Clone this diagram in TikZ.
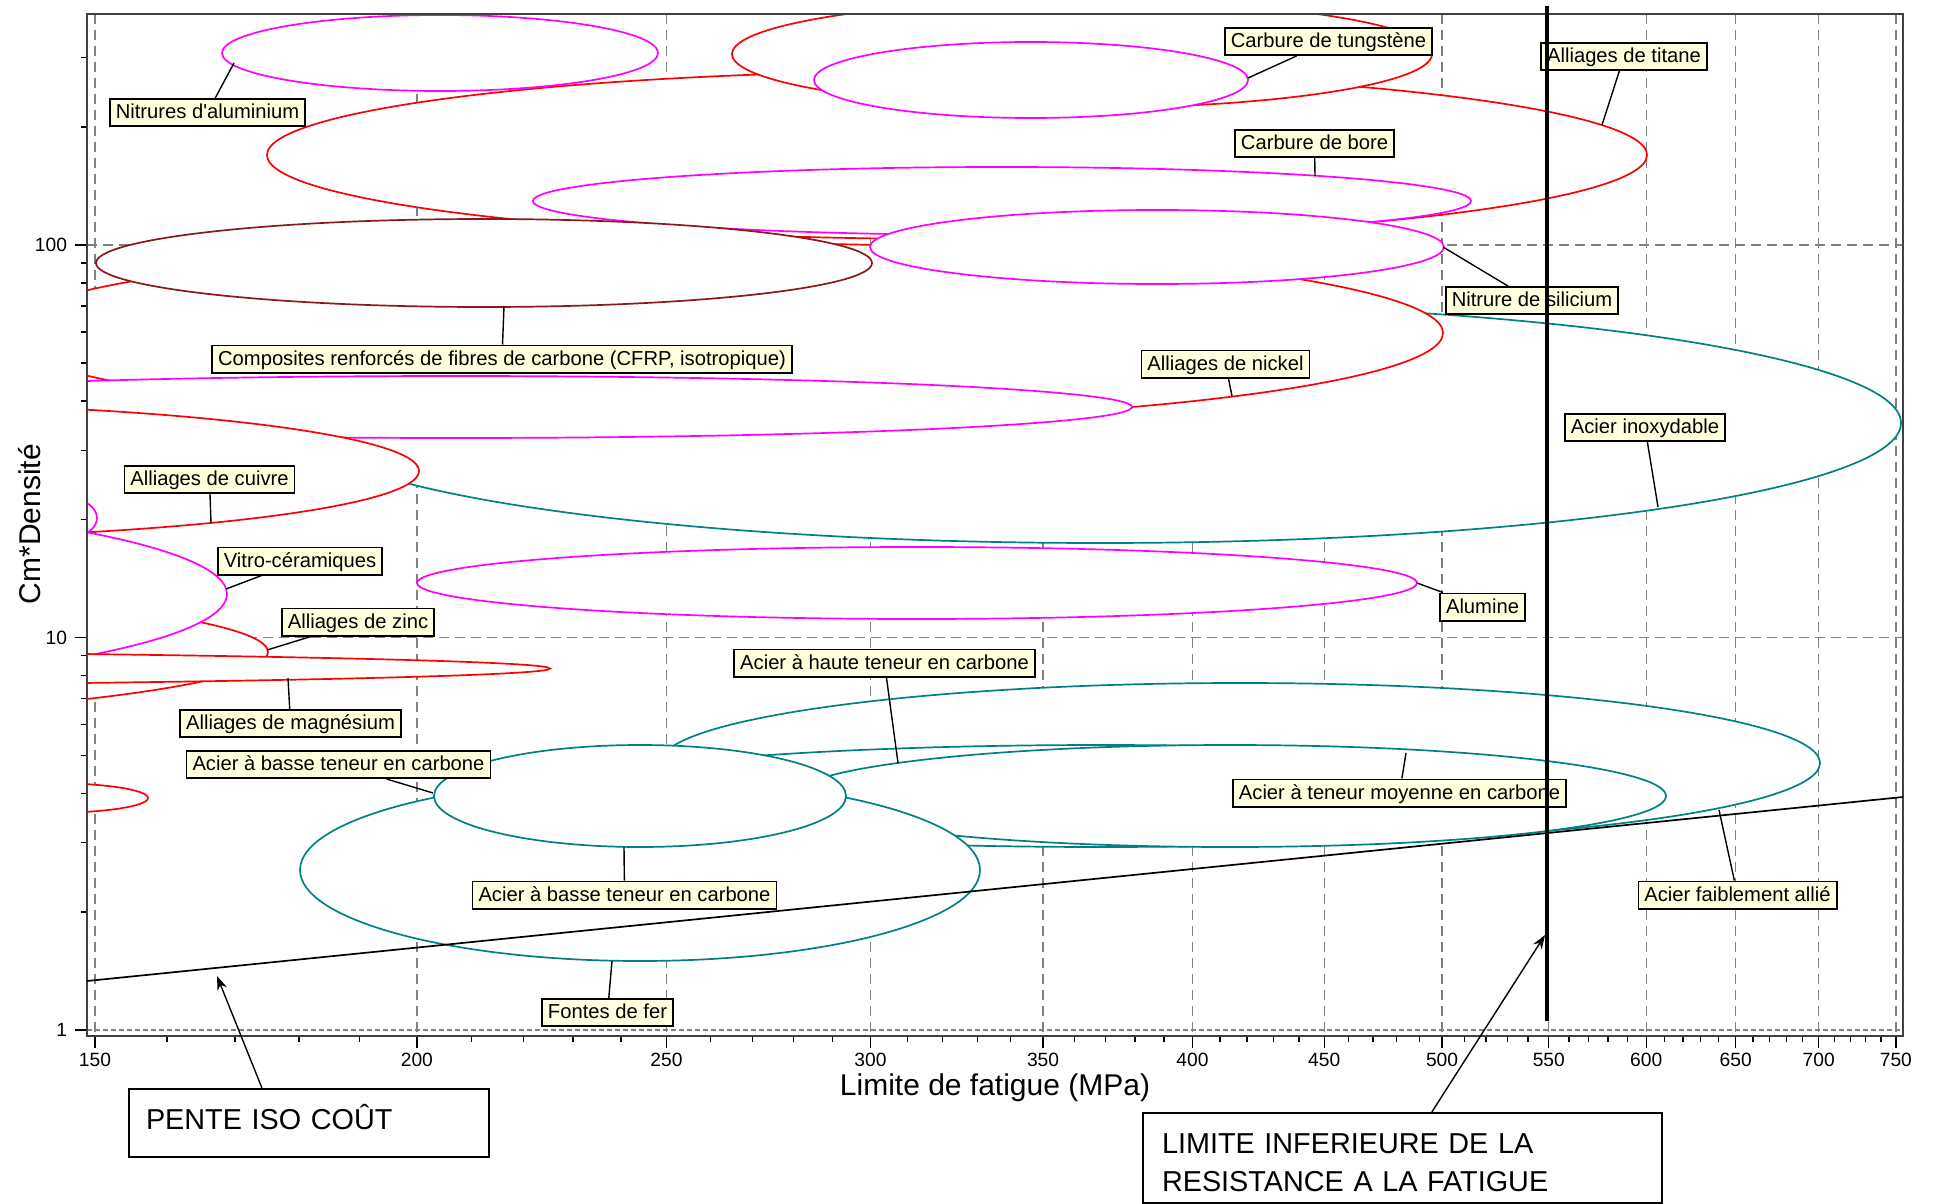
\documentclass[tikz,border=0pt]{standalone}
\usepackage{fontspec}
\setmainfont{Liberation Sans}
\setmonofont{Liberation Sans}
\usetikzlibrary{arrows.meta,calc}
\definecolor{metal}{RGB}{255,0,0}
\definecolor{ceram}{RGB}{255,0,255}
\definecolor{acier}{RGB}{0,128,128}
\definecolor{compo}{RGB}{140,25,25}
\definecolor{etiq}{RGB}{255,255,221}
\tikzset{
  bulle/.style={fill=white, line width=0.85pt},
  etiquette/.style={draw, fill=etiq, line width=0.8pt, font=\fontsize{10.1}{11}\selectfont,
    inner xsep=3pt, inner ysep=0pt, text height=10pt, text depth=3.7pt},
  trait/.style={line width=0.7pt},
  grille/.style={gray, line width=0.7pt, dash pattern=on 5pt off 3pt},
  cadre/.style={draw=black!75, line width=1.1pt},
  graduation/.style={font=\fontsize{9.6}{11}\selectfont},
  encadre/.style={draw, fill=white, line width=1pt, font=\fontsize{14.4}{19}\selectfont,
    align=left, inner ysep=0pt, anchor=north west},
  fleche/.style={line width=0.7pt, -{Stealth[length=7pt, width=5pt]}}
}
\begin{document}
\begin{tikzpicture}[x=0.5pt, y=-0.5pt,
  declare function={lx(\x)=95+2576.5*log10(\x/150); ly(\x)=1030-392.5*log10(\x);}]
  \useasboundingbox (0,0) rectangle (1938,1204);
  \foreach \m in {150,200,...,750}
    \draw[grille] ({lx(\m)},14) -- ({lx(\m)},1036);
  \foreach \m in {10,100}
    \draw[grille] (87,{ly(\m)}) -- (1903,{ly(\m)});
  \draw[grille, dash pattern=on 2.5pt off 1.5pt] (87,1030) -- (1903,1030);

  \begin{scope}
    \clip (87,14) rectangle (1903,1036);
    \draw[bulle, draw=acier] (1100,423) ellipse (801 and 120);
    \draw[bulle, draw=metal] (722,333) ellipse (721 and 90);
    \draw[bulle, draw=metal] (957,155) ellipse (690 and 84);
    \draw[bulle, draw=metal] (1082,54) ellipse (350 and 54);
    \draw[bulle, draw=ceram] (1031,80) ellipse (217 and 38);
    \draw[bulle, draw=ceram] (440,53) ellipse (218 and 38);
    \draw[bulle, draw=ceram] (1002,201) ellipse (469 and 34);
    \draw[bulle, draw=ceram] (1157,247) ellipse (287 and 37);
    \draw[bulle, draw=compo] (484,263) ellipse (388 and 44);
    \draw[bulle, draw=ceram] (456,407) ellipse (676 and 31);
    \draw[bulle, draw=metal] (-168,471) ellipse (587 and 68);
    \draw[bulle, draw=ceram] (67,518) ellipse (30 and 20);
    \draw[bulle, draw=metal] (-578,652) ellipse (846 and 76);
    \draw[bulle, draw=ceram] (-373,594) ellipse (600 and 96);
    \draw[bulle, draw=metal] (-950,668.5) ellipse (1500 and 20);
    \draw[bulle, draw=metal] (48,798) ellipse (100 and 15);
    \draw[bulle, draw=ceram] (917,583) ellipse (500 and 36);
    \draw[bulle, draw=acier] (1240,763) ellipse (580 and 80);
    \draw[bulle, draw=acier] (1101,796) ellipse (557 and 51);
    \draw[bulle, draw=acier] (1230,796) ellipse (436 and 51);
    \draw[bulle, draw=acier] (640,870) ellipse (340 and 91);
    \draw[bulle, draw=acier] (640,796) ellipse (206 and 51);
  \end{scope}

  \foreach \m in {160,170,...,740}
    \draw[trait] ({lx(\m)},1036) -- ({lx(\m)},1042);
  \foreach \m in {150,200,...,750}{
    \draw[trait] ({lx(\m)},1036) -- ({lx(\m)},1048);
    \node[graduation, anchor=base] at ({lx(\m)},1066){\m};
  }
  \foreach \m in {2,...,9,20,30,...,90,200,300}
    \draw[trait] (81,{ly(\m)}) -- (87,{ly(\m)});
  \foreach \m in {1,10,100}{
    \draw[trait] (75,{ly(\m)}) -- (87,{ly(\m)});
    \node[graduation, anchor=east] at (74,{ly(\m)}){\m};
  }
  \draw[cadre] (87,14) rectangle (1903,1036);
  \node[anchor=base, font=\fontsize{15}{18}\selectfont] (titrex) at (995,1095){Limite de fatigue (MPa)};
  \node[anchor=base, rotate=90, font=\fontsize{15}{18}\selectfont] (titrey) at (40,524){Cm*Densité};

  \node[etiquette] (nitrures) at (207.5,112.5){Nitrures d{\ttfamily'}aluminium};
  \node[etiquette] (wc) at (1328.5,41.5){Carbure de tungstène};
  \node[etiquette] (titane) at (1624,56.5){Alliages de titane};
  \node[etiquette] (bore) at (1314.5,143.5){Carbure de bore};
  \node[etiquette] (silicium) at (1532,300.5){Nitrure de silicium};
  \node[etiquette] (cfrp) at (502,359){Composites renforcés de fibres de carbone (CFRP, isotropique)};
  \node[etiquette] (nickel) at (1225.5,364){Alliages de nickel};
  \node[etiquette] (inox) at (1645,427.5){Acier inoxydable};
  \node[etiquette] (cuivre) at (209.5,479.5){Alliages de cuivre};
  \node[etiquette] (vitro) at (300,561){Vitro-céramiques};
  \node[etiquette] (alumine) at (1482.5,607){Alumine};
  \node[etiquette] (zinc) at (358,622){Alliages de zinc};
  \node[etiquette] (haute) at (884.5,663){Acier à haute teneur en carbone};
  \node[etiquette] (magnesium) at (290.5,723.5){Alliages de magnésium};
  \node[etiquette] (basse) at (338.5,764.5){Acier à basse teneur en carbone};
  \node[etiquette] (moyenne) at (1399.5,793){Acier à teneur moyenne en carbone};
  \node[etiquette] (basseb) at (624.5,895){Acier à basse teneur en carbone};
  \node[etiquette] (allie) at (1737.5,895){Acier faiblement allié};
  \node[etiquette] (fontes) at (607.5,1012.5){Fontes de fer};

  \coordinate (pnitrures) at (234,63);
  \coordinate (pwc) at (1248,78);
  \coordinate (ptitane) at (1602,125);
  \coordinate (pbore) at (1315,176);
  \coordinate (psilicium) at (1443,247);
  \coordinate (pcfrp) at (504,306);
  \coordinate (pnickel) at (1232,396);
  \coordinate (pinox) at (1658,507);
  \coordinate (pcuivre) at (211,523);
  \coordinate (pvitro) at (226,589);
  \coordinate (palumine) at (1417,583);
  \coordinate (pzinc) at (267,650);
  \coordinate (phaute) at (898,763);
  \coordinate (pmagnesium) at (288,678);
  \coordinate (pbasse) at (433,793);
  \coordinate (pmoyenne) at (1406,753);
  \coordinate (pbasseb) at (624,847);
  \coordinate (pallie) at (1719,810);
  \coordinate (pfontes) at (612,961);
  \foreach \n in {nitrures,wc,titane,bore,silicium,cfrp,nickel,inox,cuivre,vitro,alumine,zinc,haute,magnesium,basse,moyenne,basseb,allie,fontes}
    \draw[trait] (\n) -- (p\n);

  \coordinate (isoA) at (87,981);
  \coordinate (isoB) at (1903,797);
  \draw[line width=0.85pt] (isoA) -- (isoB);
  \coordinate (fatA) at (1547,6);
  \coordinate (fatB) at (1547,1021);
  \draw[line width=2pt] (fatA) -- (fatB);

  \node[encadre, text width=163pt, inner xsep=8.5pt, text height=20pt, text depth=14pt] (pente) at (128,1088){PENTE ISO COÛT};
  \node[encadre, text width=240.5pt, inner xsep=9.5pt, text height=20pt, text depth=25pt] (limite) at (1142,1112){LIMITE INFERIEURE DE LA\\RESISTANCE A LA FATIGUE};
  \coordinate (pointeiso) at (217,976);
  \coordinate (pointefat) at (1545,935);
  \draw[fleche] ($(pente.north west)!0.37!(pente.north east)$) -- (pointeiso);
  \draw[fleche] (limite) -- (pointefat);
\end{tikzpicture}
\end{document}
